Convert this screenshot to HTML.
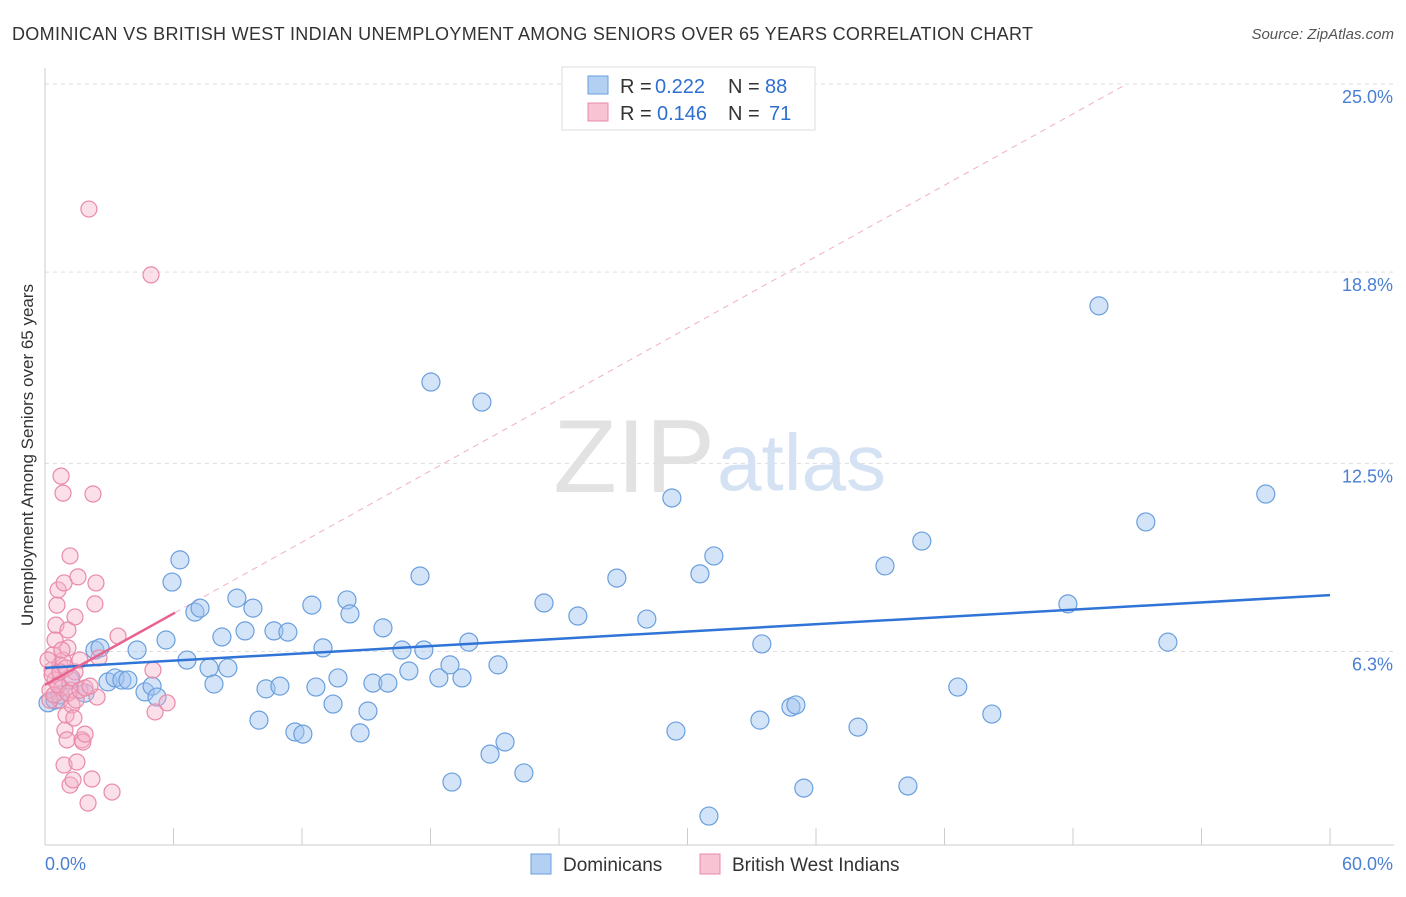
<!DOCTYPE html>
<html><head><meta charset="utf-8"><style>
body{margin:0;background:#fff;font-family:"Liberation Sans",sans-serif;}
svg text{font-family:"Liberation Sans",sans-serif;}
</style></head><body>
<svg width="1406" height="892" xmlns="http://www.w3.org/2000/svg">
<text x="12" y="40" font-size="18" fill="#333" textLength="1021">DOMINICAN VS BRITISH WEST INDIAN UNEMPLOYMENT AMONG SENIORS OVER 65 YEARS CORRELATION CHART</text>
<text x="1394" y="39" font-size="15" fill="#555" font-style="italic" text-anchor="end">Source: ZipAtlas.com</text>
<g id="grid"></g>
<text x="715" y="492" font-size="104" fill="#e2e2e2" text-anchor="end" font-family="Liberation Serif">ZIP</text>
<text x="717" y="490" font-size="80" fill="#d4e2f4">atlas</text>
<g id="marks"></g>
<text x="33" y="455" font-size="17" fill="#333" text-anchor="middle" transform="rotate(-90 33 455)">Unemployment Among Seniors over 65 years</text>
<text x="45" y="870" font-size="18" fill="#4a7fd4">0.0%</text>
<text x="1393" y="870" font-size="18" fill="#4a7fd4" text-anchor="end">60.0%</text>
<g>
<rect x="562" y="67" width="253" height="63" fill="#fff" stroke="#ddd"/>
<rect x="588" y="76" width="20" height="18" fill="#b3d0f3" stroke="#6a9fdd"/>
<rect x="588" y="103" width="20" height="18" fill="#f8c4d4" stroke="#e88aa8"/>
<text x="620" y="93" font-size="20" fill="#333">R =</text>
<text x="655" y="93" font-size="20" fill="#2f6fd0">0.222</text>
<text x="728" y="93" font-size="20" fill="#333">N =</text>
<text x="765" y="93" font-size="20" fill="#2f6fd0">88</text>
<text x="620" y="120" font-size="20" fill="#333">R =</text>
<text x="657" y="120" font-size="20" fill="#2f6fd0">0.146</text>
<text x="728" y="120" font-size="20" fill="#333">N =</text>
<text x="769" y="120" font-size="20" fill="#2f6fd0">71</text>
</g>
<g>
<rect x="531" y="854" width="20" height="20" fill="#b3d0f3" stroke="#6a9fdd"/>
<text x="563" y="871" font-size="19" fill="#333">Dominicans</text>
<rect x="700" y="854" width="20" height="20" fill="#f8c4d4" stroke="#e88aa8"/>
<text x="732" y="871" font-size="19" fill="#333">British West Indians</text>
</g>
</svg>
<script>
const yTicks=[25.0,18.8,12.5,6.3];
const yTickLabels=["25.0%","18.8%","12.5%","6.3%"];
const xTicks=[0,6,12,18,24,30,36,42,48,54,60];
const blueX=[0.14,0.47,0.70,1.17,1.87,2.33,2.57,2.94,3.27,3.59,3.87,4.30,4.67,5.0,5.23,5.65,5.93,6.30,6.63,7.0,7.24,7.66,7.89,8.26,8.54,8.96,9.34,9.71,9.99,10.32,10.69,10.97,11.34,11.67,12.04,12.46,12.65,12.98,13.45,13.68,14.1,14.24,14.71,15.08,15.31,15.78,16.01,16.67,16.99,17.51,17.69,18.02,18.39,18.91,19.0,19.47,19.79,20.4,20.78,21.15,21.48,22.36,23.3,24.88,26.7,28.1,29.27,29.46,30.58,31.0,31.23,33.38,33.47,34.83,35.06,35.43,37.96,39.22,40.29,40.94,42.62,44.21,47.76,49.21,51.4,52.43,57.0];
const blueY=[4.61,4.70,4.87,5.36,4.93,6.35,6.42,5.30,5.43,5.36,5.36,6.35,4.97,5.16,4.80,6.68,8.59,9.32,6.02,7.60,7.73,5.76,5.23,6.78,5.76,8.06,6.98,7.73,4.04,5.07,6.98,5.16,6.94,3.65,3.58,7.83,5.13,6.42,4.57,5.43,8.00,7.54,3.62,4.34,5.26,7.08,5.26,6.35,5.66,8.79,6.35,15.18,5.43,5.86,2.0,5.43,6.61,14.52,2.92,5.86,3.32,2.30,7.90,7.47,8.72,7.37,11.36,3.68,8.86,0.88,9.45,4.04,6.55,4.47,4.54,1.80,3.81,9.12,1.87,9.94,5.13,4.24,7.87,17.69,10.57,6.61,11.49];
const pinkX=[0.23,0.33,0.37,0.47,0.47,0.51,0.56,0.61,0.70,0.70,0.75,0.79,0.84,0.84,0.89,0.89,0.93,0.98,1.03,1.07,1.07,1.17,1.17,1.21,1.26,1.31,1.35,1.40,1.40,1.49,1.54,1.63,1.73,1.77,1.87,2.01,2.05,2.19,2.24,2.33,2.38,2.43,2.52,3.13,3.41,4.95,5.04,5.14,5.70,0.14,0.23,0.33,0.42,0.61,0.70,0.79,0.98,1.07,1.26,1.45,1.63,1.87,2.10];
const pinkY=[5.03,5.69,6.19,5.36,6.68,7.17,7.83,8.33,5.86,4.70,12.08,5.10,11.52,6.02,8.56,2.56,3.71,4.21,3.39,6.42,7.01,9.45,1.90,5.03,4.54,2.07,4.11,7.44,5.63,2.66,8.76,6.02,3.39,3.32,3.58,1.31,20.88,2.10,11.49,7.87,8.56,4.80,6.09,1.67,6.81,18.71,5.69,4.31,4.61,6.02,4.70,5.53,4.87,5.20,5.63,6.35,5.76,4.93,5.43,4.70,5.03,5.10,5.16];
const blueTrend=[5.76,8.16];
const pinkTrend=[5.2,0.392];
const NS="http://www.w3.org/2000/svg";
const X=v=>45+v*21.417, Y=v=>84+(25-v)*30.35;
function mk(t,a,p){const e=document.createElementNS(NS,t);for(const k in a)e.setAttribute(k,a[k]);p.appendChild(e);return e;}
const g=document.getElementById('grid'), m=document.getElementById('marks');
yTicks.forEach((t,i)=>{
 const l=mk('line',{x1:45,x2:1394,y1:Y(t),y2:Y(t),stroke:'#ddd','stroke-dasharray':'4 4'},g);
 
 
 const tx=mk('text',{x:1393,y:Y(t)+19,'font-size':18,fill:'#4a7fd4','text-anchor':'end'},g);
 tx.textContent=yTickLabels[i];
 
 
});
const ax=mk('line',{x1:45,x2:45,y1:68,y2:845,stroke:'#ccc'},g);


const bx=mk('line',{x1:45,x2:1394,y1:845,y2:845,stroke:'#ccc'},g);


xTicks.forEach(t=>{
 const l=mk('line',{x1:X(t),x2:X(t),y1:828,y2:845,stroke:'#ccc'},g);
 
 
});
const xEnd=(25-pinkTrend[0])/pinkTrend[1];
const pd=mk('line',{x1:X(6.07),y1:Y(pinkTrend[0]+pinkTrend[1]*6.07),x2:X(xEnd),y2:Y(25),stroke:'#eeb0c4','stroke-dasharray':'6 5','stroke-width':1},m);


blueX.forEach((x,i)=>{
 const c=mk('circle',{cx:X(x),cy:Y(blueY[i]),r:9,fill:'rgba(160,195,240,0.45)',stroke:'#6a9fdd','stroke-width':1.2},m);
 
 
});
pinkX.forEach((x,i)=>{
 const c=mk('circle',{cx:X(x),cy:Y(pinkY[i]),r:8,fill:'rgba(245,175,200,0.4)',stroke:'#e88aa8','stroke-width':1.2},m);
 
 
});
const bt=mk('line',{x1:X(0),y1:Y(blueTrend[0]),x2:X(60),y2:Y(blueTrend[1]),stroke:'#2f74d6','stroke-width':2.5},m);


const pt=mk('line',{x1:X(0),y1:Y(pinkTrend[0]),x2:X(6.07),y2:Y(pinkTrend[0]+pinkTrend[1]*6.07),stroke:'#e8628e','stroke-width':2.5},m);


</script>
</body></html>
